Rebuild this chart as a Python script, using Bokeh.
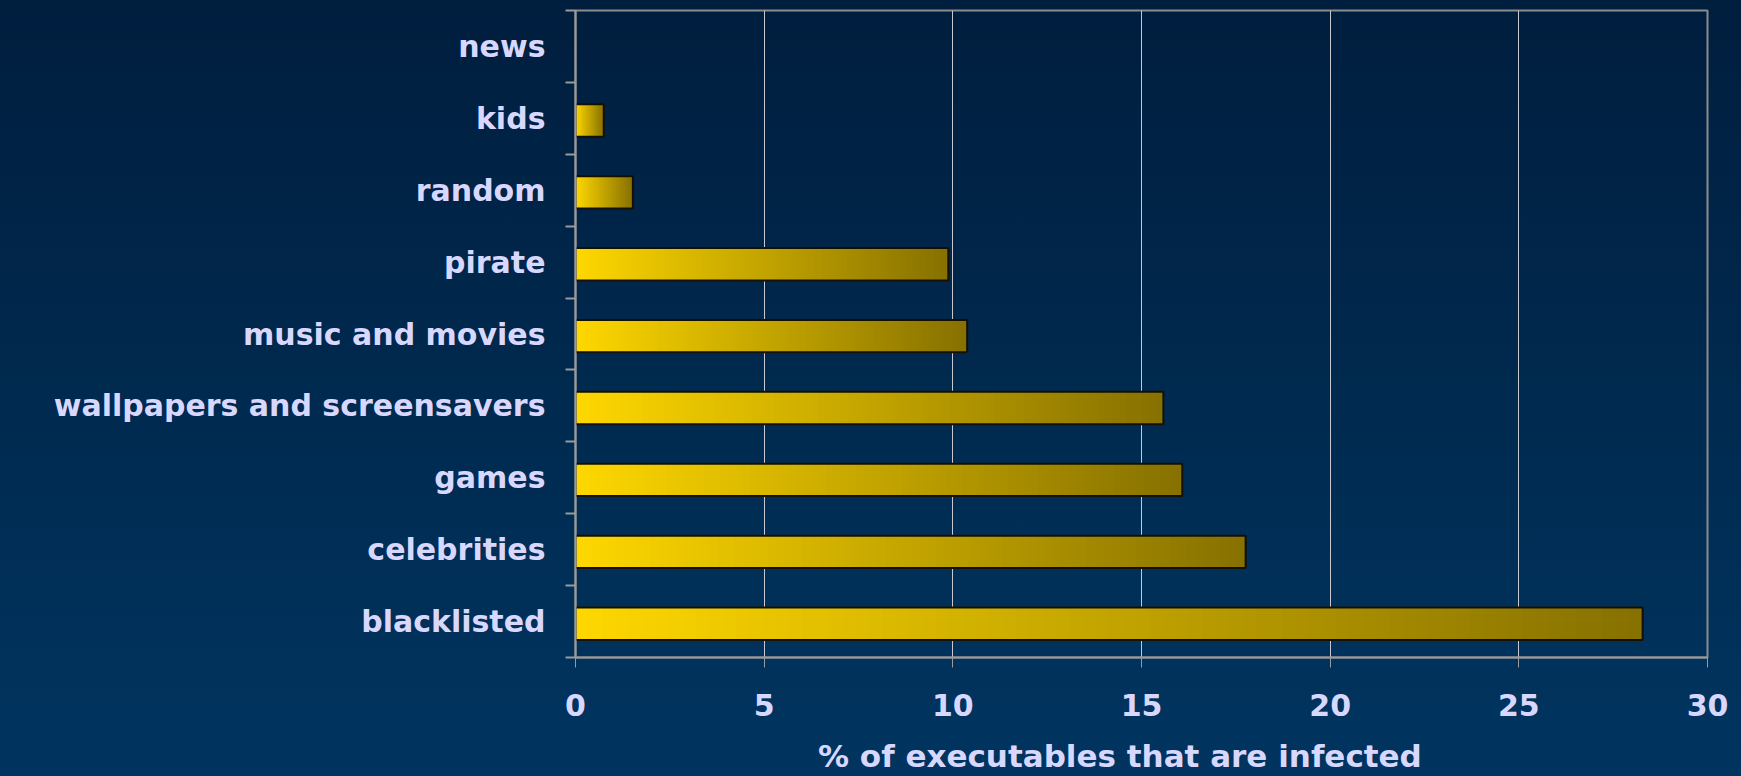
import numpy as np
from bokeh.plotting import figure
from bokeh.models import FixedTicker, Range1d
from bokeh.embed import file_html
from bokeh.resources import INLINE

# Data (bottom to top)
categories = ["blacklisted", "celebrities", "games", "wallpapers and screensavers",
              "music and movies", "pirate", "random", "kids", "news"]
values = [28.28, 17.76, 16.08, 15.58, 10.38, 9.88, 1.52, 0.75, 0.0]
x_ticks = [0, 5, 10, 15, 20, 25, 30]

TEXT = "#D8D8FF"
FONT = "DejaVu Sans"

p = figure(width=1741, height=776, output_backend="svg", toolbar_location=None,
           x_range=Range1d(0, 30), y_range=Range1d(0, len(categories)),
           min_border_left=575, min_border_right=34, min_border_top=10, min_border_bottom=118)
p.background_fill_color = None
p.border_fill_color = None
p.outline_line_color = "#8C8C8C"
p.outline_line_width = 2

# gradient bars: overlapping slices with colours from gold to dark olive
c0 = np.array([255, 216, 0])
c1 = np.array([135, 113, 0])
N = 80
H = 0.45
for i, v in enumerate(values):
    if v <= 0:
        continue
    edges = np.linspace(0, v, N + 1)
    t = (np.arange(N) + 0.5) / N
    cols = ["#%02x%02x%02x" % tuple((c0 + (c1 - c0) * tt).astype(int)) for tt in t]
    p.hbar(y=[i + 0.47] * N, left=edges[:-1], right=[v] * N, height=H,
           fill_color=cols, line_color=None)
ys = [i + 0.47 for i, v in enumerate(values) if v > 0]
vs = [v for v in values if v > 0]
p.hbar(y=ys, left=0, right=vs, height=H, fill_color=None,
       line_color="#141000", line_width=2)

# grid
p.ygrid.grid_line_color = None
p.xgrid.grid_line_color = "#C8C8D0"
p.xgrid.grid_line_width = 1
p.xgrid.ticker = FixedTicker(ticks=x_ticks)

# x axis
xa = p.xaxis[0]
xa.ticker = FixedTicker(ticks=x_ticks)
xa.axis_line_color = "#9A9A9A"
xa.axis_line_width = 2
xa.major_tick_line_color = "#9A9A9A"
xa.major_tick_in = 0
xa.major_tick_out = 10
xa.minor_tick_line_color = None
xa.major_label_text_color = TEXT
xa.major_label_text_font = FONT
xa.major_label_text_font_style = "bold"
xa.major_label_text_font_size = "30px"
xa.major_label_standoff = 26
xa.axis_label = "% of executables that are infected\u00a0\u00a0\u00a0\u00a0"
xa.axis_label_text_color = TEXT
xa.axis_label_text_font = FONT
xa.axis_label_text_font_style = "bold"
xa.axis_label_text_font_size = "31px"
xa.axis_label_standoff = 19

# y axis
ya = p.yaxis[0]
ya.ticker = FixedTicker(ticks=[i + 0.5 for i in range(len(categories))],
                        minor_ticks=list(range(len(categories) + 1)))
ya.major_label_overrides = {i + 0.5: c for i, c in enumerate(categories)}
ya.axis_line_color = "#9A9A9A"
ya.axis_line_width = 2
ya.major_tick_line_color = None
ya.minor_tick_line_color = "#9A9A9A"
ya.minor_tick_line_width = 2
ya.minor_tick_in = 0
ya.minor_tick_out = 10
ya.major_label_text_color = TEXT
ya.major_label_text_font = FONT
ya.major_label_text_font_style = "bold"
ya.major_label_text_font_size = "30px"
ya.major_label_standoff = 20

html = file_html(p, INLINE)
style = ("<style>html,body{margin:0;padding:0;width:1741px;height:776px;"
         "background:linear-gradient(to bottom,#001E3E 0%,#003560 100%);}</style>")
html = html.replace("<head>", "<head>" + style, 1)
open("out.html", "w").write(html)
